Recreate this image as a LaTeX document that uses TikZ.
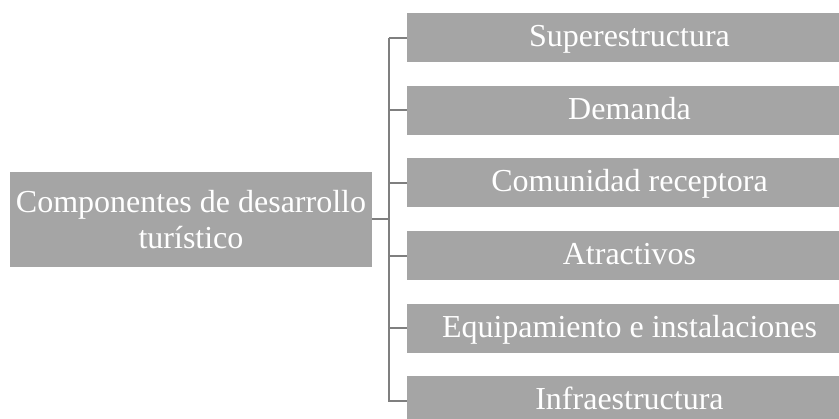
\documentclass[tikz,border=0pt]{standalone}
\usepackage{fontspec}
\setmainfont{Liberation Serif}
\begin{document}
\begin{tikzpicture}[x=1pt,y=-1pt,
  box/.style={fill=boxgray,draw=none,text=white,inner sep=0pt,align=center,font=\fontsize{32}{36}\selectfont},
  rbox/.style={box,minimum width=445pt,minimum height=49pt,text height=24pt,text depth=6pt},
  conn/.style={draw=linegray,line width=2pt}]
\definecolor{boxgray}{HTML}{A5A5A5}
\definecolor{linegray}{HTML}{7F7F7F}
\useasboundingbox (0,0) rectangle (839,419);
\clip (0,0) rectangle (839,419);
\node[box,minimum width=362pt,minimum height=95pt] (main) at (191,219.5) {Componentes de desarrollo\\turístico};
\foreach \i/\t in {1/Superestructura,2/Demanda,3/Comunidad receptora,4/Atractivos,5/Equipamiento e instalaciones,6/Infraestructura}{
  \node[rbox] (r\i) at (629.5,{37.8+72.6*(\i-1)}) {\t};
}
\coordinate (bus) at (389,219.5);
\draw[conn] (main.east) -- (bus);
\draw[conn] ([xshift=-18pt]r1.west) -- (r1.west);
\draw[conn] ([xshift=-18pt]r1.west) -- ([xshift=-18pt]r6.west) -- (r6.west);
\foreach \i in {2,3,4,5}{\draw[conn] ([xshift=-18pt]r\i.west) -- (r\i.west);}
\end{tikzpicture}
\end{document}
